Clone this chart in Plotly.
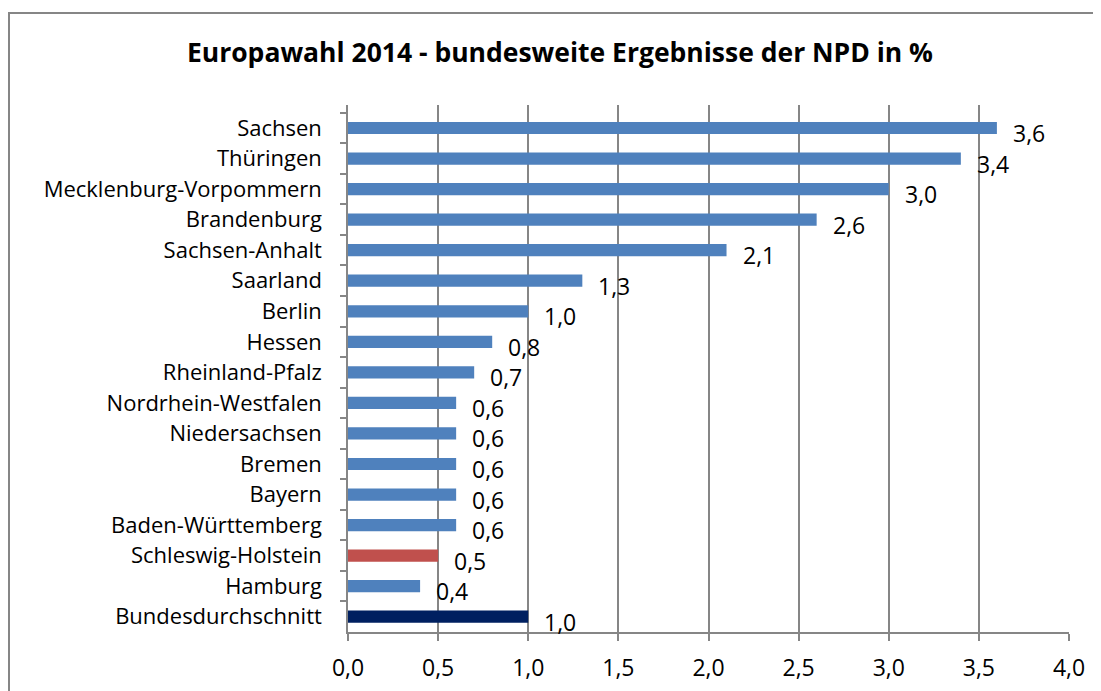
import plotly.graph_objects as go

# Europawahl 2014 - NPD results per federal state (percent)
states = [
    "Sachsen", "Thüringen", "Mecklenburg-Vorpommern", "Brandenburg",
    "Sachsen-Anhalt", "Saarland", "Berlin", "Hessen", "Rheinland-Pfalz",
    "Nordrhein-Westfalen", "Niedersachsen", "Bremen", "Bayern",
    "Baden-Württemberg", "Schleswig-Holstein", "Hamburg", "Bundesdurchschnitt",
]
npd_share = [3.6, 3.4, 3.0, 2.6, 2.1, 1.3, 1.0, 0.8, 0.7, 0.6, 0.6, 0.6, 0.6, 0.6, 0.5, 0.4, 1.0]
x_ticks = [0.0, 0.5, 1.0, 1.5, 2.0, 2.5, 3.0, 3.5, 4.0]

BLUE = "#4F81BD"
RED = "#C0504D"
NAVY = "#002060"
colors = [NAVY if s == "Bundesdurchschnitt" else RED if s == "Schleswig-Holstein" else BLUE for s in states]

FONT = "Open Sans"

fig = go.Figure(go.Bar(
    x=npd_share, y=states, orientation="h",
    marker=dict(color=colors, line=dict(width=0)),
    width=0.4,
))

# data labels to the right of every bar, slightly below the bar centre
for s, v in zip(states, npd_share):
    fig.add_annotation(
        x=v, y=s, text=f"{v:.1f}".replace(".", ","),
        showarrow=False, xanchor="left", xshift=14, yshift=-5,
        font=dict(family=FONT, size=23, color="black"),
    )

# the page body adds an 8px offset, so the figure is 8px smaller
W, H = 1093, 683
L, R, T, B = 340, 32, 97, 59
pw, ph = W - L - R, H - T - B

# grey frame around the whole chart
fig.add_shape(
    type="rect", xref="paper", yref="paper",
    x0=(1 - L) / pw, x1=(W + 10 - L) / pw,
    y0=-(B + 10) / ph, y1=(H - B - 5) / ph,
    line=dict(color="#868686", width=2), layer="below",
)

fig.update_layout(
    width=W, height=H,
    margin=dict(l=L, r=R, t=T, b=B, autoexpand=False),
    plot_bgcolor="white", paper_bgcolor="white",
    separators=",.",
    showlegend=False,
    title=dict(
        text="<b>Europawahl 2014 - bundesweite Ergebnisse der NPD in %</b>",
        x=0.505, xanchor="center", y=0.935, yanchor="middle",
        font=dict(family=FONT, size=26.5, color="black"),
    ),
    font=dict(family=FONT, size=22, color="black"),
)
fig.update_xaxes(
    range=[0, 4.0], tickvals=x_ticks, tickformat=".1f",
    showgrid=True, gridcolor="#868686", gridwidth=1.5,
    showline=True, linecolor="#868686", linewidth=1.5,
    ticks="outside", ticklen=7, tickcolor="#868686", tickwidth=1.5,
    zeroline=False, tickfont=dict(size=23), ticklabelstandoff=8,
)
fig.update_yaxes(
    autorange="reversed", type="category",
    showline=True, linecolor="#868686", linewidth=1.5,
    ticks="outside", ticklen=6, tickcolor="#868686", tickwidth=1.5,
    tickson="boundaries", showgrid=False, ticklabelstandoff=20,
    tickfont=dict(size=22),
)

fig.write_html("out.html")
